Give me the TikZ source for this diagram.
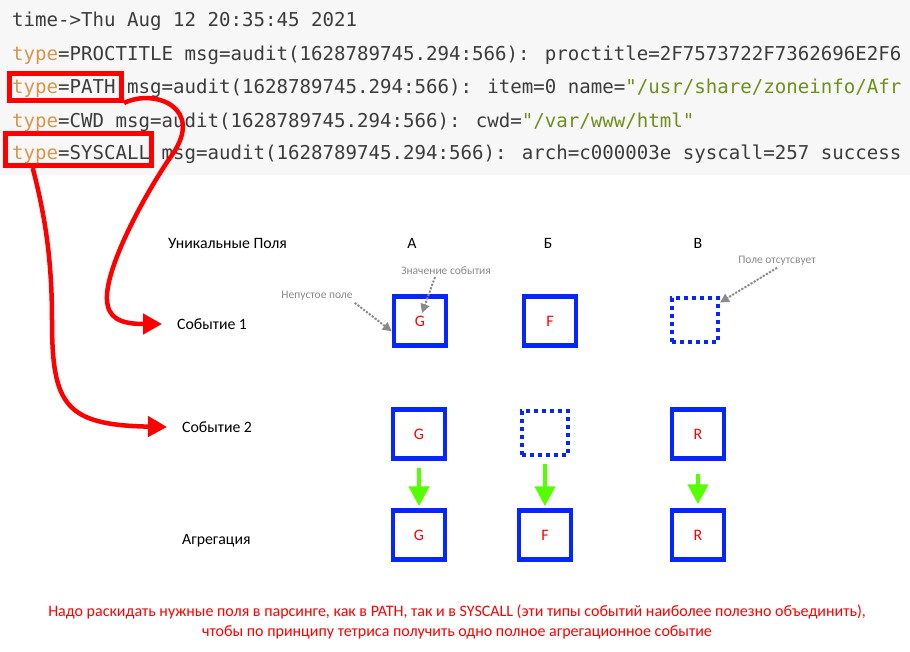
\documentclass[tikz,border=0pt]{standalone}
\usepackage{fontspec}
\setmainfont{Carlito}
\newfontfamily\logfont{DejaVu Sans Mono}
\usetikzlibrary{arrows.meta,positioning}
\definecolor{panel}{HTML}{F7F7F7}
\definecolor{logtext}{HTML}{3C3C3C}
\definecolor{logkey}{HTML}{D8964A}
\definecolor{logstr}{HTML}{6E8F1C}
\definecolor{alert}{HTML}{FF0000}
\definecolor{field}{HTML}{0625FF}
\definecolor{pourgreen}{HTML}{55FF00}
\definecolor{hintgray}{HTML}{8A8A8A}
\newcommand\tkey[1]{\textcolor{logkey}{#1}}
\newcommand\tstr[1]{\textcolor{logstr}{#1}}
\tikzset{
  logline/.style={anchor=base west,inner sep=0pt,text=logtext,
    font=\logfont\fontsize{19.1}{22}\selectfont},
  redframe/.style={draw=alert,line width=5pt,inner sep=0pt},
  route/.style={-{Triangle[length=19pt,width=20pt]},draw=alert,line width=4.5pt},
  field/.style={draw=field,line width=4.5pt,minimum width=52pt,minimum height=49pt,
    inner sep=0pt,text=alert,font=\fontsize{16}{18}\selectfont},
  nofield/.style={field,line width=4pt,dash pattern=on 4pt off 4pt,
    minimum width=46pt,minimum height=44pt},
  pour/.style={-{Triangle[length=20pt,width=20pt]},draw=pourgreen,line width=4.5pt,
    shorten <=7pt,shorten >=2pt},
  hint/.style={text=hintgray,inner sep=2pt,font=\fontsize{11.5}{14}\selectfont},
  hintflow/.style={-{Triangle[length=9pt,width=9pt]},draw=hintgray,fill=hintgray,
    line width=2pt,dash pattern=on 2pt off 1.6pt},
  rowlabel/.style={anchor=west,inner xsep=15pt,font=\fontsize{15.8}{18}\selectfont},
  collabel/.style={font=\fontsize{15.8}{18}\selectfont}
}
\begin{document}
\begin{tikzpicture}[x=1pt,y=-1pt]
  \useasboundingbox (0,0) rectangle (910,652);
  % audit log
  \begin{scope}
    \clip (0,0) rectangle (910,175);
    \fill[panel] (0,0) rectangle (910,175);
    \node[logline] (l1) at (12,27) {time->Thu Aug 12 20:35:45 2021};
    \node[logline] (l2) at (12,61) {\tkey{type}=PROCTITLE msg=audit(1628789745.294:566): proctitle=2F7573722F7362696E2F6};
    \node[logline] (l3) at (12,94) {\tkey{type}=PATH msg=audit(1628789745.294:566): item=0 name=\tstr{"/usr/share/zoneinfo/Afr}};
    \node[logline] (l4) at (12,128) {\tkey{type}=CWD msg=audit(1628789745.294:566): cwd=\tstr{"/var/www/html"}};
    \node[logline] (l5) at (12,160) {\tkey{type}=SYSCALL msg=audit(1628789745.294:566): arch=c000003e syscall=257 success};
    \node[redframe,minimum width=112pt,minimum height=27pt] (pathbox) at (65.5,87) {};
    \node[redframe,minimum width=146pt,minimum height=32pt] (sysbox) at (78.5,149.5) {};
  \end{scope}

  % fields table
  \node[rowlabel] (uniq) at (153,243) {Уникальные Поля};
  \node[collabel] (colA) at (412,243) {А};
  \node[collabel] (colB) at (548,243) {Б};
  \node[collabel] (colC) at (698,243) {В};
  \node[rowlabel] (ev1) at (162,324) {Событие 1};
  \node[rowlabel] (ev2) at (167,427) {Событие 2};
  \node[rowlabel] (agg) at (167,541) {Агрегация};

  \node[field] (a1) at (420,321) {G};
  \node[field] (b1) at (550,321) {F};
  \node[nofield] (c1) at (695,320) {};
  \node[field] (a2) at (419,434) {G};
  \node[nofield] (b2) at (545,433) {};
  \node[field] (c2) at (698,434) {R};
  \node[field] (a3) at (419,535) {G};
  \node[field] (b3) at (545,535) {F};
  \node[field] (c3) at (698,535) {R};

  \draw[pour] (a2.south) -- (a3.north);
  \draw[pour] (b2.south) -- (b3.north);
  \draw[pour,shorten <=13pt,shorten >=4pt] (c2.south) -- (c3.north);

  % hints
  \node[hint] (hnon) at (317,296) {Непустое поле};
  \node[hint] (hval) at (446,271) {Значение события};
  \node[hint] (hnone) at (777,261) {Поле отсутсвует};
  \draw[hintflow] (hnon.south east) -- (a1.200);
  \draw[hintflow] ([xshift=-11pt]hval.south) -- ([xshift=2pt,yshift=8pt]a1.center);
  \draw[hintflow] (hnone.south) -- (c1.35);

  % routes from the log
  \draw[route] (pathbox.south east) .. controls (155,88) and (205,108) .. (172,155)
    .. controls (150,186) and (105,265) .. (107,300)
    .. controls (108,318) and (120,324) .. (ev1.west);
  \draw[route] (sysbox.202) .. controls (45,215) and (52,260) .. (52,320)
    .. controls (52,405) and (65,425) .. (ev2.west);

  \node[text=alert,align=center,font=\fontsize{16}{20.5}\selectfont] (note) at (457,622)
    {Надо раскидать нужные поля в парсинге, как в PATH, так и в SYSCALL (эти типы событий наиболее полезно объединить),\\
     чтобы по принципу тетриса получить одно полное агрегационное событие};
\end{tikzpicture}
\end{document}
